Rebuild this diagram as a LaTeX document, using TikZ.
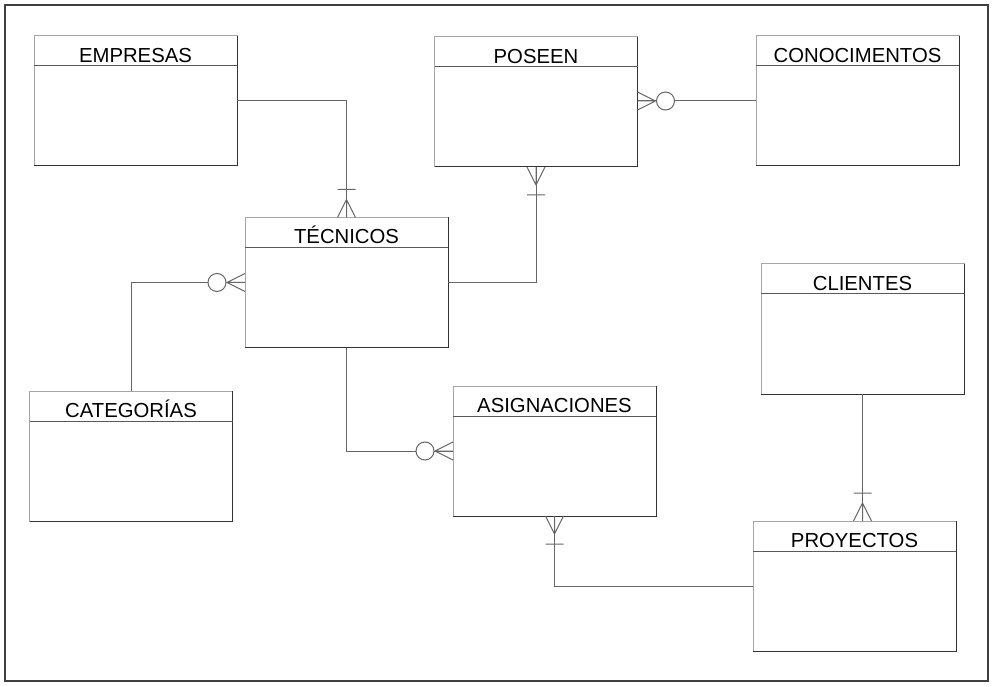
\documentclass[tikz,border=0pt]{standalone}
\usepackage{fontspec}
\setmainfont{Liberation Sans}
\usetikzlibrary{calc}
\tikzset{
  x=1pt, y=-1pt,
  entity/.style={rectangle, draw=black!35, line width=1pt, fill=white,
    minimum width=203pt, minimum height=130pt, inner sep=0pt, outer sep=0pt},
  dark/.style={draw=black!80, line width=1pt},
  hdr/.style={draw=black!65, line width=1pt},
  title/.style={anchor=base, inner sep=0pt, font=\fontsize{20.3}{24}\selectfont},
  conn/.style={draw=black!60, line width=1pt},
  onemany/.pic={\draw[conn] (18,0) -- (0,-9) (18,0) -- (0,0) (18,0) -- (0,9) (28,-9) -- (28,9);},
  zeromany/.pic={\draw[conn] (18,0) -- (0,-9) (18,0) -- (0,0) (18,0) -- (0,9);
     \draw[conn, fill=white] (28,0) circle[radius=9pt];}
}
\newcommand{\entbox}[4]{%
  \node[entity] (#1) at (#2) {};
  \draw[dark] (#1.north east) -- (#1.south east) -- (#1.south west);
  \draw[hdr] ($(#1.north west)+(0,30)$) -- ($(#1.north east)+(0,30)$);
  \node[title] (#1-t) at ($(#1.north)+(0,26.5)$) {#3};
}
\begin{document}
\begin{tikzpicture}
\useasboundingbox (0,0) rectangle (994,687);
\draw[draw=black!75, line width=1.6pt] (5,5) rectangle (988,681);

\entbox{emp}{135.5,101}{EMPRESAS}{}
\entbox{pos}{536,102}{POSEEN}{}
\entbox{con}{857.5,101}{CONOCIMENTOS}{}
\entbox{tec}{346.5,282.5}{TÉCNICOS}{}
\entbox{cli}{862.5,329}{CLIENTES}{}
\entbox{cat}{131,456}{CATEGORÍAS}{}
\entbox{asi}{554.5,451}{ASIGNACIONES}{}
\entbox{pro}{854.5,586}{PROYECTOS}{}

% connectors
\draw[conn] (emp.east) -| (tec.north);
\draw[conn] (tec.east) -| (pos.south);
\draw[conn] (con.west) -- (con.west -| pos.east);
\draw[conn] (cat.north) |- (tec.west);
\draw[conn] (tec.south) |- (asi.west);
\draw[conn] (pro.west) -| (asi.south);
\draw[conn] (cli.south) -- (cli.south |- pro.north);

% crow's feet
\pic[rotate=90] at (tec.north) {onemany};
\pic[rotate=-90] at (pos.south) {onemany};
\pic at (con.west -| pos.east) {zeromany};
\pic[rotate=180] at (tec.west) {zeromany};
\pic[rotate=180] at (asi.west) {zeromany};
\pic[rotate=-90] at (asi.south) {onemany};
\pic[rotate=90] at (cli.south |- pro.north) {onemany};
\end{tikzpicture}
\end{document}
